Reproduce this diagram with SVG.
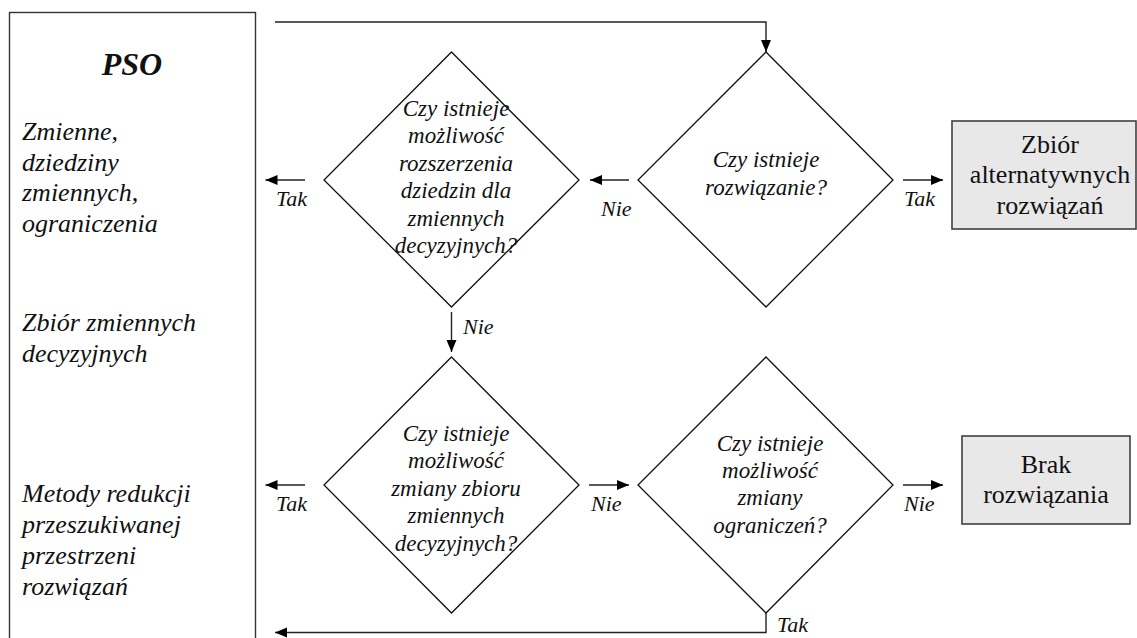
<svg xmlns="http://www.w3.org/2000/svg" width="1137" height="638" viewBox="0 0 1137 638">
<defs>
<marker id="ah" markerUnits="userSpaceOnUse" markerWidth="13" markerHeight="11" refX="12" refY="5" orient="auto">
<path d="M0,0 L12,5 L0,10 z" fill="#000"/>
</marker>
<style>
.ln{fill:none;stroke:#222;stroke-width:1.4}
.dm{fill:#fff;stroke:#111;stroke-width:1.3}
.bx{fill:#e8e8e8;stroke:#404040;stroke-width:1.6}
.it{font-family:"Liberation Serif","Times New Roman",serif;font-style:italic;fill:#111}
.dt{font-size:23px;text-anchor:middle}
.lb{font-size:22px}
.pt{font-size:26px}
.bt{font-family:"Liberation Serif","Times New Roman",serif;font-size:26px;text-anchor:middle;fill:#111}
</style>
</defs>
<rect width="1137" height="638" fill="#fff"/>
<g id="pso">
<rect x="9.5" y="12.5" width="246" height="640" fill="#fff" stroke="#333" stroke-width="1.4"/>
<text x="132" y="75" class="it" font-weight="bold" font-size="32" text-anchor="middle">PSO</text>
<text class="it pt"><tspan x="22" y="140">Zmienne,</tspan><tspan x="22" y="170.5">dziedziny</tspan><tspan x="22" y="201">zmiennych,</tspan><tspan x="22" y="231.5">ograniczenia</tspan></text>
<text class="it pt"><tspan x="22" y="331">Zbiór zmiennych</tspan><tspan x="22" y="361.5">decyzyjnych</tspan></text>
<text class="it pt"><tspan x="22" y="502">Metody redukcji</tspan><tspan x="22" y="533">przeszukiwanej</tspan><tspan x="22" y="564">przestrzeni</tspan><tspan x="22" y="595">rozwiązań</tspan></text>
</g>
<g id="d-rozwiazanie">
<polygon class="dm" points="766,52 893,180 766,307 638,180"/>
<text class="it dt"><tspan x="766" y="167">Czy istnieje</tspan><tspan x="766" y="195">rozwiązanie?</tspan></text>
</g>
<g id="d-dziedziny">
<polygon class="dm" points="451.5,52 579,180 451.5,307 324,180"/>
<text class="it dt"><tspan x="456" y="116">Czy istnieje</tspan><tspan x="456" y="143.3">możliwość</tspan><tspan x="456" y="170.6">rozszerzenia</tspan><tspan x="456" y="198">dziedzin dla</tspan><tspan x="456" y="225.5">zmiennych</tspan><tspan x="456" y="253">decyzyjnych?</tspan></text>
</g>
<g id="d-zbior">
<polygon class="dm" points="451.5,357 579,485 451.5,613 324,485"/>
<text class="it dt"><tspan x="456" y="441">Czy istnieje</tspan><tspan x="456" y="468.3">możliwość</tspan><tspan x="456" y="496">zmiany zbioru</tspan><tspan x="456" y="523.3">zmiennych</tspan><tspan x="456" y="551">decyzyjnych?</tspan></text>
</g>
<g id="d-ograniczenia">
<polygon class="dm" points="766,357 893,485 766,613 638,485"/>
<text class="it dt"><tspan x="770" y="451">Czy istnieje</tspan><tspan x="770" y="478">możliwość</tspan><tspan x="770" y="505">zmiany</tspan><tspan x="770" y="533">ograniczeń?</tspan></text>
</g>
<g id="zbior-alt">
<rect class="bx" x="952" y="121" width="184" height="108"/>
<text class="bt"><tspan x="1050" y="153">Zbiór</tspan><tspan x="1050" y="183">alternatywnych</tspan><tspan x="1050" y="214">rozwiązań</tspan></text>
</g>
<g id="brak">
<rect class="bx" x="962" y="436" width="168" height="88"/>
<text class="bt"><tspan x="1046" y="473">Brak</tspan><tspan x="1046" y="502.5">rozwiązania</tspan></text>
</g>
<g id="connectors">
<polyline class="ln" points="275,22 766,22 766,52" marker-end="url(#ah)"/>
<line class="ln" x1="629" y1="180" x2="590" y2="180" marker-end="url(#ah)"/>
<line class="ln" x1="305" y1="180" x2="265.5" y2="180" marker-end="url(#ah)"/>
<line class="ln" x1="903" y1="180" x2="943" y2="180" marker-end="url(#ah)"/>
<line class="ln" x1="451.5" y1="312" x2="451.5" y2="352" marker-end="url(#ah)"/>
<line class="ln" x1="305" y1="485" x2="265.5" y2="485" marker-end="url(#ah)"/>
<line class="ln" x1="589" y1="485" x2="629" y2="485" marker-end="url(#ah)"/>
<line class="ln" x1="903" y1="485" x2="943" y2="485" marker-end="url(#ah)"/>
<polyline class="ln" points="766,613 766,632.5 275,632.5" marker-end="url(#ah)"/>
<text class="it lb" x="276" y="206">Tak</text>
<text class="it lb" x="601" y="216">Nie</text>
<text class="it lb" x="904" y="206">Tak</text>
<text class="it lb" x="463" y="334">Nie</text>
<text class="it lb" x="276" y="511">Tak</text>
<text class="it lb" x="591" y="511">Nie</text>
<text class="it lb" x="904" y="511">Nie</text>
<text class="it lb" x="777" y="632">Tak</text>
</g>
</svg>
